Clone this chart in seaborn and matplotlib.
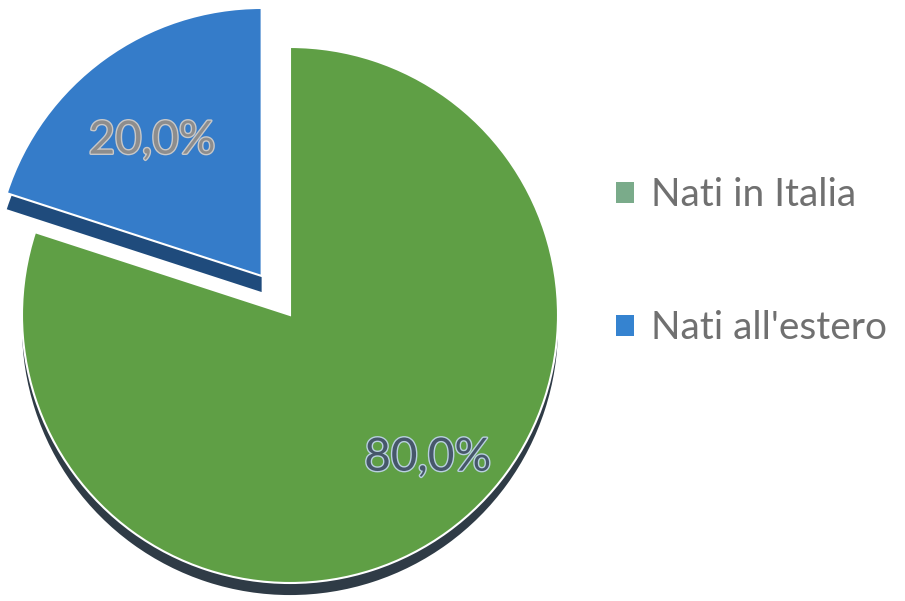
import matplotlib
matplotlib.use('Agg')
import numpy as np
import matplotlib.pyplot as plt
import matplotlib.patheffects as pe
from matplotlib.patches import Patch
import seaborn as sns

sns.set_style('white')
plt.rcParams['font.family'] = ['Lato', 'DejaVu Sans']

# Data
categories = ['Nati in Italia', "Nati all'estero"]
values = [80.0, 20.0]
explode = [0.0, 0.18]

# Colours
face_colors = ['#5f9f45', '#357cc9']
side_colors = ['#2f3b46', '#1f4b7c']
legend_colors = ['#7aab8a', '#3583d0']

fig = plt.figure(figsize=(9.05, 6.01), dpi=100)
ax = fig.add_axes([0, 0, 1, 1])

# pie geometry in pixels -> unit radius
px = 268.0
cx, cy = 290.0, 601 - 315.0

# "3D" sides: darker copies shifted down (blue slice a bit thicker)
side_shift = [0.045, 0.06]
for i, s in enumerate(side_shift):
    cols = [side_colors[j] if j == i else 'none' for j in range(len(values))]
    ax.pie(values, explode=explode, colors=cols, startangle=90,
           counterclock=False, center=(0, -s), radius=1.0,
           wedgeprops=dict(edgecolor='none', linewidth=0))

wedges, texts, autotexts = ax.pie(
    values, explode=explode, colors=face_colors, startangle=90,
    counterclock=False, radius=1.0,
    autopct=lambda p: f'{p:.1f}%'.replace('.', ','),
    wedgeprops=dict(edgecolor='white', linewidth=1.5))
ax.set_xlim(-cx / px, (905 - cx) / px)
ax.set_ylim(-cy / px, (601 - cy) / px)
ax.set_aspect('equal')
ax.axis('off')

# percentage labels: distance from wedge centre and small angle nudge
label_dist = [0.74, 0.65]
label_nudge = [8, 3]
label_styles = [('#46576a', '#b9d0e0'), ('#8d8d8d', '#c8c8c8')]
for w, t, d, n, (fc, ec) in zip(wedges, autotexts, label_dist, label_nudge, label_styles):
    ang = np.deg2rad((w.theta1 + w.theta2) / 2 + n)
    t.set_position((w.center[0] + d * np.cos(ang), w.center[1] + d * np.sin(ang)))
    t.set_fontsize(33)
    t.set_color(fc)
    t.set_path_effects([pe.withStroke(linewidth=2, foreground=ec)])

handles = [Patch(facecolor=c, edgecolor='none') for c in legend_colors]
leg = fig.legend(handles, categories, loc='upper left',
                 bbox_to_anchor=(0.642, 1 - 142 / 601),
                 frameon=False, fontsize=28, labelspacing=2.5,
                 handlelength=0.45, handleheight=0.45, handletextpad=0.45)
for txt in leg.get_texts():
    txt.set_color('#707070')

fig.savefig('out.png', dpi=100)
